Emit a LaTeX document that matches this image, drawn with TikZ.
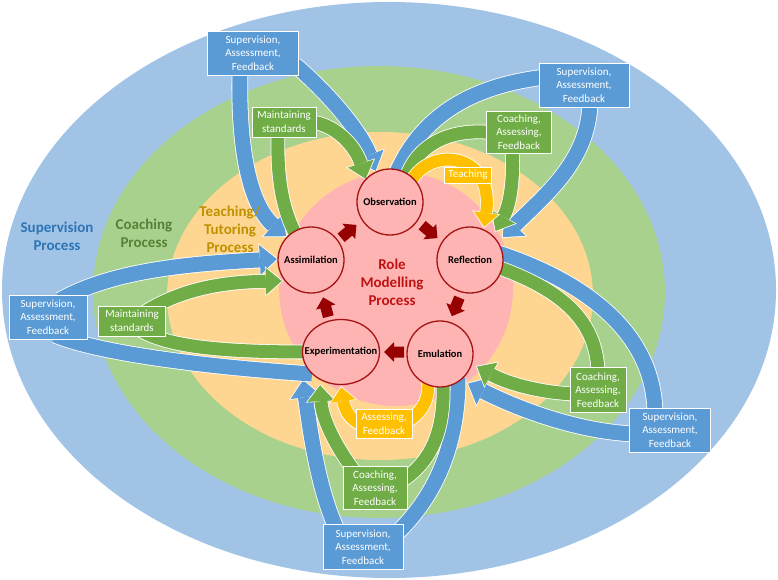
\documentclass[tikz,border=0pt]{standalone}
\usepackage{fontspec}
\setmainfont{Carlito}
\usetikzlibrary{arrows.meta,shapes.geometric}
\pgfdeclarelayer{bg}
\pgfdeclarelayer{rib}
\pgfsetlayers{bg,rib,main}
\definecolor{cOuter}{RGB}{160,195,230}
\definecolor{cGreenE}{RGB}{169,209,142}
\definecolor{cOrangeE}{RGB}{255,214,145}
\definecolor{cPink}{RGB}{255,180,180}
\definecolor{cB}{RGB}{91,155,213}
\definecolor{cG}{RGB}{112,173,71}
\definecolor{cO}{RGB}{255,192,0}
\definecolor{cRed}{RGB}{150,0,0}
\definecolor{cCirc}{RGB}{165,20,20}
\definecolor{cRole}{RGB}{192,20,20}
\definecolor{tB}{RGB}{46,117,182}
\definecolor{tG}{RGB}{84,130,53}
\definecolor{tO}{RGB}{191,144,0}
\tikzset{
  blueband/.style={draw=cB, line width=15pt, preaction={draw=white, line width=16.6pt}},
  greenband/.style={draw=cG, line width=13pt, preaction={draw=white, line width=14.6pt}},
  bluehead/.style={draw=cB, line width=15pt, shorten >=1.2pt,
     -{Triangle[width=30pt 0 0,length=17pt 0 0,line width=0pt 0 0]},
     preaction={draw=white, line width=16.6pt, shorten >=0pt,
     -{Triangle[width=33pt 0 0,length=18.8pt 0 0,line width=0pt 0 0]}}},
  greenhead/.style={draw=cG, line width=13pt, shorten >=1.2pt,
     -{Triangle[width=27pt 0 0,length=16pt 0 0,line width=0pt 0 0]},
     preaction={draw=white, line width=14.6pt, shorten >=0pt,
     -{Triangle[width=30pt 0 0,length=17.8pt 0 0,line width=0pt 0 0]}}},
  orangehead/.style={draw=cO, line width=12pt, shorten >=1.2pt,
     -{Triangle[width=25pt 0 0,length=14pt 0 0,line width=0pt 0 0]},
     preaction={draw=white, line width=13.6pt, shorten >=0pt,
     -{Triangle[width=28pt 0 0,length=15.8pt 0 0,line width=0pt 0 0]}}},
  boxbase/.style={rectangle, draw=white, line width=0.8pt, text=white, align=center,
     inner sep=1pt, font=\fontsize{11}{13.5}\selectfont},
  sbox/.style={boxbase, fill=cB},
  gbox/.style={boxbase, fill=cG},
  obox/.style={boxbase, fill=cO},
  circbase/.style={draw=cCirc, line width=1.3pt, fill=cPink, inner sep=0pt},
  circ/.style={circbase, circle, minimum size=66pt},
  ctext/.style={font=\bfseries\fontsize{10.5}{12}\selectfont, text=black, inner sep=0pt},
  ptext/.style={font=\bfseries\fontsize{15}{18}\selectfont, align=center, inner sep=0pt},
}
\newcommand\cycarrow[3]{\fill[cRed, shift={(#1,#2)}, rotate=#3]
  (-9,-5.5) -- (1,-5.5) -- (1,-10) -- (11,0) -- (1,10) -- (1,5.5) -- (-9,5.5) -- cycle;}
\begin{document}
\begin{tikzpicture}[x=1pt,y=-1pt]
\useasboundingbox (0,0) rectangle (778,580);
\begin{pgfonlayer}{bg}
\fill[white] (0,0) rectangle (778,580);
\fill[cOuter] (389,290) ellipse [x radius=387pt, y radius=288pt];
\fill[cGreenE] (379,292) ellipse [x radius=286pt, y radius=226pt];
\fill[cOrangeE] (380,296) ellipse [x radius=213pt, y radius=164pt];
\fill[cPink] (396,289) circle [radius=117pt];
\end{pgfonlayer}

% role modelling circles
\node[circ] (obs) at (390,202) {};
\node[circ] (ref) at (470,260) {};
\node[circ] (emu) at (440,354) {};
\node[circbase, ellipse, minimum width=77pt, minimum height=65pt] (exp) at (341,352) {};
\node[circ] (asm) at (311,260) {};
\node[ctext] (obsT) at (obs) {Observation};
\node[ctext] (refT) at (ref) {Reflection};
\node[ctext] (emuT) at (emu) {Emulation};
\node[ctext] (expT) at (exp) {Experimentation};
\node[ctext] (asmT) at (asm) {Assimilation};
\node[ptext, text=cRole] (role) at (392,282) {Role\\Modelling\\Process};

\cycarrow{348}{232}{40}
\cycarrow{429}{231}{-40}
\cycarrow{456}{306}{-112}
\cycarrow{395}{352}{180}
\cycarrow{326}{308}{105}

% process labels
\node[ptext, text=tB] (supP) at (57,236) {Supervision\\Process};
\node[ptext, text=tG] (coaP) at (144,233) {Coaching\\Process};
\node[ptext, text=tO] (teaP) at (230,229) {Teaching/\\Tutoring\\Process};

% boxes
\node[sbox, minimum width=91pt, minimum height=44pt] (tlb) at (253,53) {Supervision,\\Assessment,\\Feedback};
\node[sbox, minimum width=90pt, minimum height=44pt] (trb) at (584,85) {Supervision,\\Assessment,\\Feedback};
\node[sbox, minimum width=78pt, minimum height=44pt] (lb) at (48,317) {Supervision,\\Assessment,\\Feedback};
\node[sbox, minimum width=80pt, minimum height=45pt] (bb) at (363,547) {Supervision,\\Assessment,\\Feedback};
\node[sbox, minimum width=81pt, minimum height=44pt] (rb) at (670,430) {Supervision,\\Assessment,\\Feedback};
\node[gbox, minimum width=64pt, minimum height=30pt] (ms1) at (284,122) {Maintaining\\standards};
\node[gbox, minimum width=65pt, minimum height=42pt] (trg) at (519,132) {Coaching,\\Assessing,\\Feedback};
\node[gbox, minimum width=67pt, minimum height=30pt] (ms2) at (132,321) {Maintaining\\standards};
\node[gbox, minimum width=64pt, minimum height=43pt] (bg) at (375,488) {Coaching,\\Assessing,\\Feedback};
\node[gbox, minimum width=56pt, minimum height=45pt] (rg) at (598,390) {Coaching,\\Assessing,\\Feedback};
\node[obox, minimum width=47pt, minimum height=16pt] (te) at (468,175) {Teaching};
\node[obox, minimum width=56pt, minimum height=29pt] (af) at (384,424) {Assessing,\\Feedback};

\begin{pgfonlayer}{rib}
% blue
\draw[bluehead] ([shift={(-13,17)}]tlb.center) .. controls (238,150) and (250,205) .. ([shift={(-24,-23)}]asm.center);
\draw[bluehead] ([shift={(42,12)}]tlb.center) .. controls (325,90) and (360,130) .. ([shift={(-14,-30)}]obs.center);
\draw[blueband] ([shift={(-39,-8)}]trb.center) .. controls (480,85) and (420,110) .. ([shift={(3,-20)}]obs.center);
\draw[bluehead] ([shift={(6,15)}]trb.center) .. controls (590,160) and (545,195) .. ([shift={(32,-22)}]ref.center);
\draw[blueband] ([shift={(28,-7)}]ref.center) .. controls (580,280) and (655,330) .. ([shift={(-15,-15)}]rb.center);
\draw[bluehead] ([shift={(-35,4)}]rb.center) .. controls (580,432) and (520,410) .. ([shift={(27,29)}]emu.center);
\draw[blueband] ([shift={(18,24)}]emu.center) .. controls (458,450) and (432,500) .. ([shift={(32,-12)}]bb.center);
\draw[bluehead] ([shift={(-25,-15)}]bb.center) .. controls (318,490) and (310,430) .. ([shift={(-38,27)}]exp.center);
\draw[bluehead] ([shift={(12,-17)}]lb.center) .. controls (110,272) and (180,264) .. ([shift={(-33,-1)}]asm.center);
\draw[blueband] ([shift={(7,18)}]lb.center) .. controls (90,350) and (180,365) .. ([shift={(-29,22)}]exp.center);
% green
\draw[greenband] ([shift={(-6,10)}]ms1.center) .. controls (277,170) and (280,205) .. ([shift={(-15,-25)}]asm.center);
\draw[greenhead] ([shift={(28,0)}]ms1.center) .. controls (335,125) and (355,145) .. ([shift={(-24,-22)}]obs.center);
\draw[greenband] ([shift={(-24,1)}]trg.center) .. controls (450,127) and (413,145) .. ([shift={(14,-17)}]obs.center);
\draw[greenhead] ([shift={(-7,18)}]trg.center) .. controls (514,180) and (510,205) .. ([shift={(25,-28)}]ref.center);
\draw[greenband] ([shift={(30,8)}]ref.center) .. controls (560,290) and (598,320) .. ([shift={(0,-15)}]rg.center);
\draw[greenhead] ([shift={(-23,4)}]rg.center) .. controls (545,393) and (510,385) .. ([shift={(36,12)}]emu.center);
\draw[greenband] ([shift={(3,27)}]emu.center) .. controls (445,430) and (432,462) .. ([shift={(25,-6)}]bg.center);
\draw[greenhead] ([shift={(-20,-16)}]bg.center) .. controls (338,450) and (322,420) .. ([shift={(-21,32)}]exp.center);
\draw[greenhead] ([shift={(13,-9)}]ms2.center) .. controls (180,290) and (220,282) .. ([shift={(-28,21)}]asm.center);
\draw[greenband] ([shift={(8,9)}]ms2.center) .. controls (170,348) and (230,352) .. ([shift={(-31,0)}]exp.center);
% orange
\draw[orangehead] ([shift={(19,-16)}]obs.center) .. controls (425,145) and (495,150) .. ([shift={(14,-32)}]ref.center);
\draw[orangehead] ([shift={(-12,26)}]emu.center) .. controls (434,435) and (350,445) .. ([shift={(0,34)}]exp.center);
\end{pgfonlayer}
\end{tikzpicture}
\end{document}
